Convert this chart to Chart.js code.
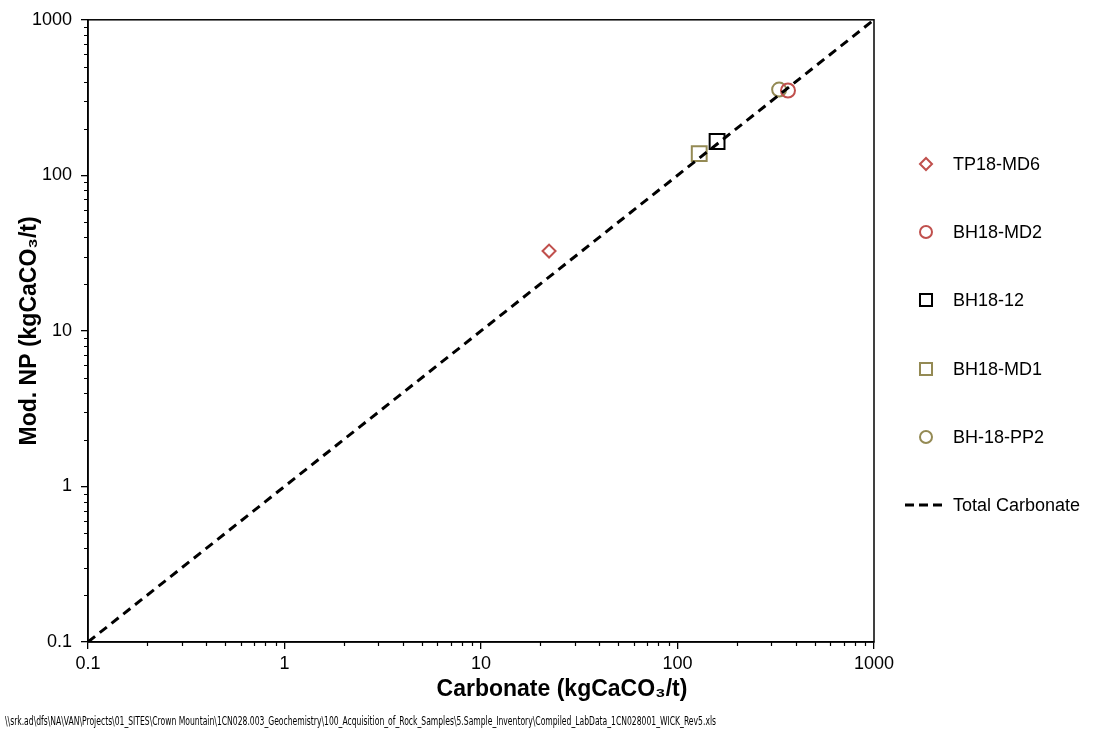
<!DOCTYPE html>
<html>
<head>
<meta charset="utf-8">
<script src="https://cdn.jsdelivr.net/npm/chart.js@4"></script>
<style>
  html, body { margin: 0; padding: 0; background: #fff; }
  #wrap { width: 1097px; height: 736px; }
</style>
</head>
<body>
<div id="wrap"><canvas id="chart" width="1097" height="736"></canvas></div>
<script>
// ---- DATA ----
const seriesNames = ['TP18-MD6', 'BH18-MD2', 'BH18-12', 'BH18-MD1', 'BH-18-PP2'];
const carbonateX = [22.2, 365, 159, 129, 329];
const modNpY = [32.6, 351, 165, 138, 356];
const lineX = [0.1, 1000];
const lineY = [0.1, 1000];
const majorTicks = [0.1, 1, 10, 100, 1000];
const minorMult = [2, 3, 4, 5, 6, 7, 8, 9];
const xTitle = 'Carbonate (kgCaCO₃/t)';
const yTitle = 'Mod. NP (kgCaCO₃/t)';
const footerText = '\\\\srk.ad\\dfs\\NA\\VAN\\Projects\\01_SITES\\Crown Mountain\\1CN028.003_Geochemistry\\100_Acquisition_of_Rock_Samples\\5.Sample_Inventory\\Compiled_LabData_1CN028001_WICK_Rev5.xls';

const styles = [
    { color: '#c0504d', shape: 'rectRot', r: 6.5, lr: 6 },
    { color: '#c0504d', shape: 'circle', r: 7, lr: 6 },
    { color: '#000000', shape: 'rect', r: 10.5, lr: 8.5 },
    { color: '#948a54', shape: 'rect', r: 10.5, lr: 8.5 },
    { color: '#948a54', shape: 'circle', r: 7, lr: 6 }
];

const FONT = "'Liberation Sans', Arial, sans-serif";

const datasets = seriesNames.map((name, i) => ({
    label: name,
    data: [{ x: carbonateX[i], y: modNpY[i] }],
    pointStyle: styles[i].shape,
    pointRadius: styles[i].r,
    pointHoverRadius: styles[i].r,
    borderColor: styles[i].color,
    backgroundColor: 'rgba(0,0,0,0)',
    pointBorderWidth: 2,
    borderWidth: 2
}));

datasets.unshift({
    label: 'Total Carbonate',
    type: 'line',
    data: lineX.map((x, i) => ({ x: x, y: lineY[i] })),
    borderColor: '#000',
    borderWidth: 3,
    borderDash: [9, 6],
    pointRadius: 0,
    fill: false
});

// frame, minor ticks, x title, legend, footer
const decorPlugin = {
    id: 'decor',
    afterDraw(chart) {
        const ctx = chart.ctx;
        const a = chart.chartArea;
        const xs = chart.scales.x, ys = chart.scales.y;
        ctx.save();
        ctx.strokeStyle = '#000';
        ctx.lineWidth = 1.5;
        ctx.strokeRect(a.left, a.top, a.right - a.left, a.bottom - a.top);

        ctx.lineWidth = 1.2;
        ctx.beginPath();
        majorTicks.slice(0, -1).forEach(d => {
            minorMult.forEach(k => {
                const px = Math.round(xs.getPixelForValue(d * k)) + 0.5;
                ctx.moveTo(px, a.bottom);
                ctx.lineTo(px, a.bottom + 4);
                const py = Math.round(ys.getPixelForValue(d * k)) + 0.5;
                ctx.moveTo(a.left, py);
                ctx.lineTo(a.left - 4, py);
            });
        });
        ctx.stroke();

        // x axis title (Excel centres it on the whole chart width)
        ctx.fillStyle = '#000';
        ctx.font = 'bold 23px ' + FONT;
        ctx.textAlign = 'center';
        ctx.textBaseline = 'middle';
        ctx.fillText(xTitle, 562, 690);
        ctx.textAlign = 'left';

        // legend
        const rowsY = [164, 232, 300, 369, 437];
        ctx.font = '18px ' + FONT;
        seriesNames.forEach((name, i) => {
            ctx.strokeStyle = styles[i].color;
            ctx.fillStyle = 'rgba(0,0,0,0)';
            ctx.lineWidth = 2;
            Chart.helpers.drawPoint(ctx, { pointStyle: styles[i].shape, radius: styles[i].lr, rotation: 0, borderWidth: 2 }, 926, rowsY[i]);
            ctx.fillStyle = '#000';
            ctx.fillText(name, 953, rowsY[i] + 1);
        });
        ctx.strokeStyle = '#000';
        ctx.lineWidth = 3;
        ctx.setLineDash([9, 5]);
        ctx.beginPath();
        ctx.moveTo(905, 505);
        ctx.lineTo(944, 505);
        ctx.stroke();
        ctx.setLineDash([]);
        ctx.fillText('Total Carbonate', 953, 506);

        // footer
        ctx.font = "12px 'Liberation Sans Narrow', 'DejaVu Sans Condensed', sans-serif";
        ctx.fillText(footerText, 5, 722, 711);
        ctx.restore();
    }
};

const axisCommon = {
    type: 'logarithmic',
    min: 0.1,
    max: 1000,
    afterBuildTicks: s => { s.ticks = majorTicks.map(v => ({ value: v })); },
    grid: { drawOnChartArea: false, drawTicks: true, tickLength: 7, color: '#000', tickColor: '#000', lineWidth: 1.3 },
    border: { display: true, color: '#000', width: 1.5 },
    ticks: {
        color: '#000',
        font: { family: FONT, size: 18 },
        callback: v => (v < 1 ? '0.1' : String(Math.round(v)))
    }
};

new Chart(document.getElementById('chart'), {
    type: 'scatter',
    data: { datasets: datasets },
    options: {
        responsive: false,
        animation: false,
        layout: { padding: { top: 18, right: 223, left: 0, bottom: 0 } },
        plugins: { legend: { display: false }, tooltip: { enabled: false } },
        scales: {
            x: Object.assign({}, axisCommon, {
                ticks: Object.assign({}, axisCommon.ticks, { padding: 4, maxRotation: 0 }),
                afterFit: s => { s.height = 94; }
            }),
            y: Object.assign({}, axisCommon, {
                ticks: Object.assign({}, axisCommon.ticks, { padding: 9 }),
                title: { display: true, text: yTitle, color: '#000', font: { family: FONT, size: 23, weight: 'bold' }, padding: { top: 16, bottom: 4 } },
                afterFit: s => { s.width = 88; }
            })
        }
    },
    plugins: [decorPlugin]
});
</script>
</body>
</html>
